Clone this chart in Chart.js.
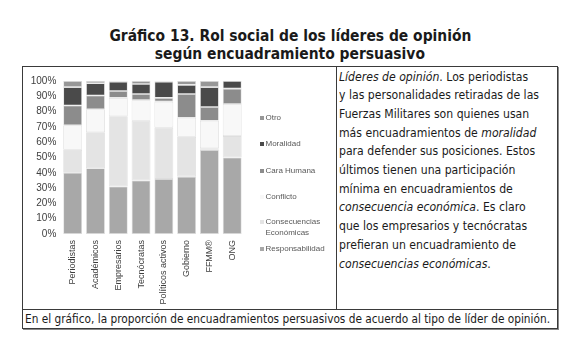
<!DOCTYPE html>
<html>
<head>
<meta charset="utf-8">
<script src="https://cdn.jsdelivr.net/npm/chart.js@4.4.1/dist/chart.umd.min.js"></script>
<style>
  html, body { margin:0; padding:0; background:#fff; }
  body { width:580px; height:357px; position:relative; overflow:hidden; font-family:"DejaVu Sans", sans-serif; color:#1a1a1a; }
  .abs { position:absolute; }
  #title { left:0; width:580px; top:27px; text-align:center; font-weight:bold; font-size:15px; line-height:18px; }
  #title span { display:inline-block; white-space:nowrap; transform-origin:center; }
  #frame { left:22px; top:66px; width:534px; height:261px; border:1px solid #3a3a3a; box-shadow:1px 1px 0 #8a8a8a; }
  #vdiv { left:336px; top:66px; width:1px; height:243px; background:#3a3a3a; }
  #hdiv { left:22px; top:309px; width:536px; height:1px; background:#3a3a3a; }
  #para { left:339px; top:67.5px; font-size:13px; line-height:18.7px; white-space:nowrap; transform-origin:left top; }
  #foot { left:25px; top:311.4px; font-size:13px; white-space:nowrap; transform-origin:left top; }
  #cv { left:22px; top:67px; }
  #legend { left:0; top:0; font-family:"Liberation Sans", Arial, sans-serif; font-size:8px; line-height:10.5px; color:#595959; }
  .li { position:absolute; left:260px; width:70px; }
  .li i { position:absolute; left:0; top:3px; width:4px; height:4px; }
  .li span { position:absolute; left:5.5px; width:62px; white-space:normal; }
</style>
</head>
<body>
<div id="title" class="abs"><span id="t1">Gráfico 13. Rol social de los líderes de opinión</span><br><span id="t2">según encuadramiento persuasivo</span></div>
<div id="frame" class="abs"></div>
<div id="vdiv" class="abs"></div>
<div id="hdiv" class="abs"></div>
<div id="para" class="abs"><span id="p1"><i>Líderes de opinión</i>. Los periodistas</span><br><span id="p2">y las personalidades retiradas de las</span><br>Fuerzas Militares son quienes usan<br>más encuadramientos de <i>moralidad</i><br>para defender sus posiciones. Estos<br>últimos tienen una participación<br>mínima en encuadramientos de<br><i>consecuencia económica</i>. Es claro<br>que los empresarios y tecnócratas<br>prefieran un encuadramiento de<br><i>consecuencias económicas</i>.</div>
<div id="foot" class="abs">En el gráfico, la proporción de encuadramientos persuasivos de acuerdo al tipo de líder de opinión.</div>
<canvas id="cv" class="abs" width="314" height="245"></canvas>
<div id="legend" class="abs"></div>
<script>
// ---- data ----
const categories = ["Periodistas", "Académicos", "Empresarios", "Tecnócratas", "Políticos activos", "Gobierno", "FFMM®", "ONG"];
const seriesNames = ["Responsabilidad", "Consecuencias Económicas", "Conflicto", "Cara Humana", "Moralidad", "Otro"];
const responsabilidad = [40, 43, 31, 35, 36, 37.5, 55, 50];
const consecuencias   = [15, 23.5, 46, 39, 33.5, 26, 1, 14];
const conflicto       = [16, 15, 12, 13.5, 17, 12.5, 18, 21];
const caraHumana      = [13, 9, 4.5, 4, 2.5, 15.5, 9, 10];
const moralidad       = [12, 8, 6, 6.5, 10.5, 6, 13, 5];
const otro            = [4, 1.5, 0.5, 2, 0.5, 2.5, 4, 0];
const yTicks = [0, 10, 20, 30, 40, 50, 60, 70, 80, 90, 100];

const colors = ["#a8a8a8", "#e4e4e4", "#f8f8f8", "#8c8c8c", "#4a4a4a", "#979797"];
const values = [responsabilidad, consecuencias, conflicto, caraHumana, moralidad, otro];

// ---- text fitting ----
function fit(el, target, ref) {
  const w = (ref || el).getBoundingClientRect().width;
  el.style.transform = 'scaleX(' + (target / w) + ')';
}
fit(document.getElementById('t1'), 362);
fit(document.getElementById('t2'), 233 * 362 / 362 * 1.0);
(function(){
  const para = document.getElementById('para');
  const w = document.getElementById('p2').getBoundingClientRect().width;
  para.style.transform = 'scaleX(' + (200 / w) + ')';
  const foot = document.getElementById('foot');
  foot.style.transform = 'scaleX(' + (525 / foot.getBoundingClientRect().width) + ')';
  // title: keep same scale for both lines
  const t1 = document.getElementById('t1'), t2 = document.getElementById('t2');
  t1.style.transform = ''; t2.style.transform = '';
  const s = 362 / t1.getBoundingClientRect().width;
  t1.style.transform = 'scaleX(' + s + ')';
  t2.style.transform = 'scaleX(' + s + ')';
})();

// ---- chart ----
const datasets = seriesNames.map((n, i) => ({
  label: n,
  data: values[i],
  backgroundColor: colors[i],
  borderColor: '#dedede',
  borderWidth: 0.8,
  borderSkipped: false,
  categoryPercentage: 1,
  barPercentage: 0.83
}));

new Chart(document.getElementById('cv'), {
  type: 'bar',
  data: { labels: categories, datasets },
  options: {
    responsive: false,
    animation: false,
    devicePixelRatio: 1,
    layout: { padding: { top: 14, right: 92.4, left: 0, bottom: 0 } },
    plugins: { legend: { display: false }, tooltip: { enabled: false } },
    scales: {
      x: {
        stacked: true,
        grid: { display: false, drawTicks: false },
        border: { display: false },
        ticks: { minRotation: 90, maxRotation: 90, autoSkip: false, padding: 6,
                 font: { family: '"Liberation Sans", Arial, sans-serif', size: 9 }, color: '#404040' },
        afterFit: s => { s.height = 78; }
      },
      y: {
        stacked: true, min: 0, max: 100,
        grid: { display: false, drawTicks: false },
        border: { display: false },
        afterBuildTicks: s => { s.ticks = yTicks.map(v => ({ value: v })); },
        ticks: { padding: 5, callback: v => v + '%',
                 font: { family: '"Liberation Sans", Arial, sans-serif', size: 10 }, color: '#404040' },
        afterFit: s => { s.width = 39.3; }
      }
    }
  }
});

// ---- legend (reverse order, like the stack) ----
const legendTops = [113, 139.4, 165.7, 191.7, 217.4, 244];
const legend = document.getElementById('legend');
seriesNames.slice().reverse().forEach((n, k) => {
  const i = seriesNames.length - 1 - k;
  const d = document.createElement('div');
  d.className = 'li';
  d.style.top = legendTops[k] + 'px';
  d.innerHTML = '<i style="background:' + colors[i] + '"></i><span>' + n + '</span>';
  legend.appendChild(d);
});
</script>
</body>
</html>
